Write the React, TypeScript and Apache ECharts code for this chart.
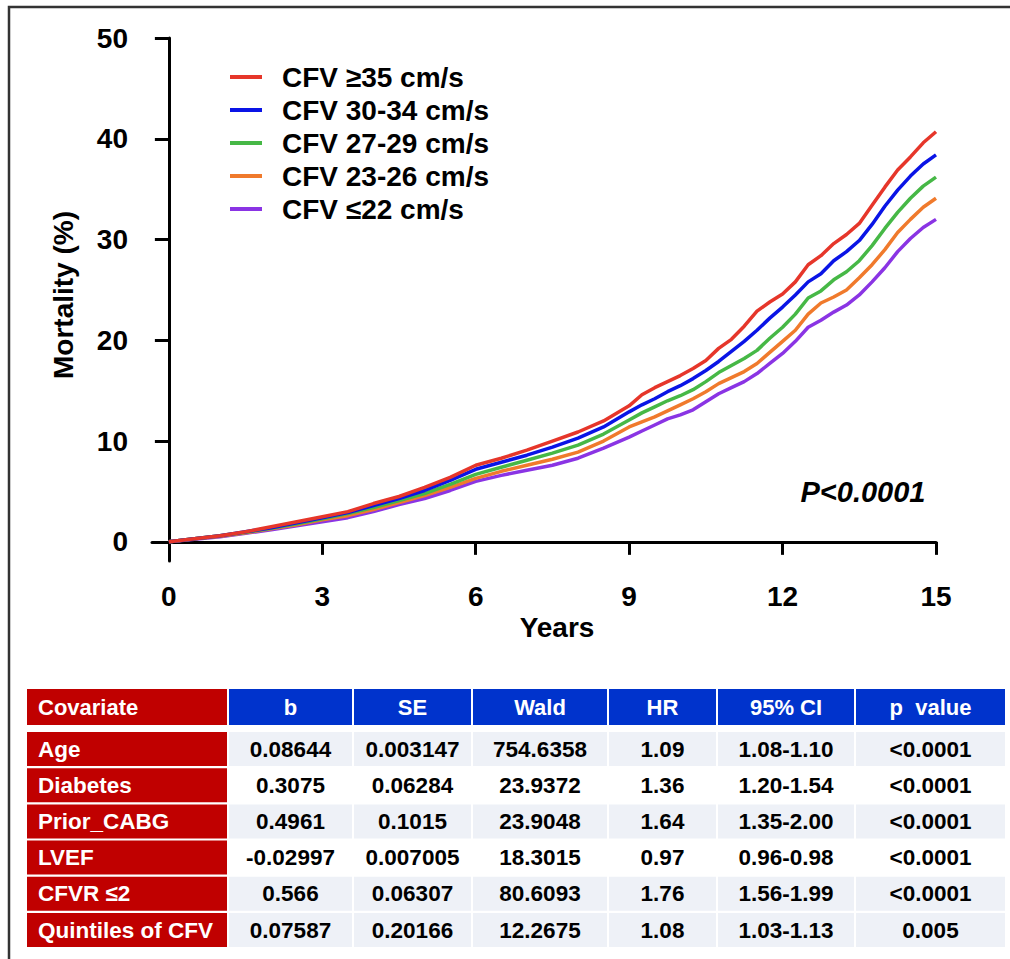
import React, { useEffect, useRef } from "react";
import * as echarts from "echarts";

// ---------- data ----------
const years = [
  0, 0.5, 1, 1.5, 2, 2.5, 3, 3.5, 4, 4.5, 5, 5.5, 6, 6.5, 7, 7.5, 8, 8.5, 9,
  9.25, 9.5, 9.75, 10, 10.25, 10.5, 10.75, 11, 11.25, 11.5, 11.75, 12, 12.25,
  12.5, 12.75, 13, 13.25, 13.5, 13.75, 14, 14.25, 14.5, 14.75, 15,
];
const cfv35 = [
  0, 0.3, 0.6, 1.0, 1.5, 2.0, 2.5, 3.0, 3.8, 4.5, 5.4, 6.4, 7.6, 8.3, 9.1, 10.0, 10.9, 12.0, 13.5,
  14.6, 15.3, 15.9, 16.5, 17.2, 18.0, 19.2, 20.1, 21.4, 22.9, 23.8, 24.6, 25.8,
  27.5, 28.4, 29.6, 30.5, 31.6, 33.4, 35.2, 36.9, 38.2, 39.6, 40.7,
];
const cfv30 = [
  0, 0.3, 0.6, 1.0, 1.4, 1.9, 2.4, 2.9, 3.6, 4.3, 5.1, 6.1, 7.2, 7.9, 8.6, 9.4, 10.3, 11.4, 12.9,
  13.6, 14.2, 14.9, 15.5, 16.2, 17.0, 17.9, 18.9, 19.9, 21.0, 22.2, 23.3, 24.5,
  25.8, 26.6, 27.9, 28.8, 29.9, 31.5, 33.3, 34.9, 36.3, 37.5, 38.4,
];
const cfv27 = [
  0, 0.3, 0.6, 0.95, 1.35, 1.8, 2.3, 2.8, 3.4, 4.1, 4.8, 5.7, 6.7, 7.4, 8.1, 8.8, 9.6, 10.7, 12.1,
  12.8, 13.4, 14.0, 14.5, 15.1, 15.9, 16.8, 17.5, 18.2, 19.0, 20.2, 21.3, 22.6,
  24.2, 24.9, 26.0, 26.8, 27.9, 29.4, 31.1, 32.7, 34.1, 35.3, 36.2,
];
const cfv23 = [
  0, 0.3, 0.55, 0.9, 1.3, 1.7, 2.2, 2.6, 3.2, 3.9, 4.6, 5.4, 6.3, 7.0, 7.6, 8.2, 8.9, 10.0, 11.4,
  11.9, 12.4, 13.0, 13.6, 14.2, 14.9, 15.7, 16.3, 16.9, 17.7, 18.8, 19.9, 21.0,
  22.6, 23.7, 24.3, 25.0, 26.2, 27.5, 29.0, 30.7, 32.0, 33.2, 34.1,
];
const cfv22 = [
  0, 0.25, 0.5, 0.85, 1.2, 1.6, 2.0, 2.4, 3.0, 3.7, 4.3, 5.1, 6.0, 6.6, 7.1, 7.6, 8.3, 9.3, 10.4,
  11.0, 11.6, 12.2, 12.6, 13.1, 13.9, 14.7, 15.3, 15.9, 16.7, 17.7, 18.7, 19.9,
  21.3, 22.0, 22.8, 23.5, 24.5, 25.8, 27.2, 28.8, 30.1, 31.2, 32.0,
];
const seriesNames = [
  "CFV ≥35 cm/s",
  "CFV 30-34 cm/s",
  "CFV 27-29 cm/s",
  "CFV 23-26 cm/s",
  "CFV ≤22 cm/s",
];
const seriesValues = [cfv35, cfv30, cfv27, cfv23, cfv22];
const seriesColors = ["#e6362a", "#0a14e6", "#46b846", "#f07a2c", "#8a34e4"];

const xTicks = [0, 3, 6, 9, 12, 15];
const yTicks = [0, 10, 20, 30, 40, 50];

const tableHeader = ["Covariate", "b", "SE", "Wald", "HR", "95% CI", "p  value"];
const covariates = ["Age", "Diabetes", "Prior_CABG", "LVEF", "CFVR ≤2", "Quintiles of CFV"];
const colB = ["0.08644", "0.3075", "0.4961", "-0.02997", "0.566", "0.07587"];
const colSE = ["0.003147", "0.06284", "0.1015", "0.007005", "0.06307", "0.20166"];
const colWald = ["754.6358", "23.9372", "23.9048", "18.3015", "80.6093", "12.2675"];
const colHR = ["1.09", "1.36", "1.64", "0.97", "1.76", "1.08"];
const colCI = ["1.08-1.10", "1.20-1.54", "1.35-2.00", "0.96-0.98", "1.56-1.99", "1.03-1.13"];
const colP = ["<0.0001", "<0.0001", "<0.0001", "<0.0001", "<0.0001", "0.005"];

// ---------- layout ----------
const FONT = "'Liberation Sans', Arial, Helvetica, sans-serif";
const colX = [27, 229, 354, 473, 609, 718, 856];
const colW = [200, 123, 117, 134, 107, 136, 149];
const headerTop = 689;
const headerH = 36;
const rowTop0 = 732;
const rowStep = 36.2;
const rowH = 34;
const lightRows = [true, false, true, false, true, true];

function buildTable(): any[] {
  const els: any[] = [];
  const columns = [covariates, colB, colSE, colWald, colHR, colCI, colP];
  tableHeader.forEach((h, c) => {
    els.push({
      type: "rect",
      shape: { x: colX[c], y: headerTop, width: colW[c], height: headerH },
      style: { fill: c === 0 ? "#c00000" : "#0033cc" },
    });
    els.push({
      type: "text",
      x: c === 0 ? colX[c] + 11 : colX[c] + colW[c] / 2,
      y: headerTop + headerH / 2,
      style: {
        text: h,
        fill: "#ffffff",
        font: `bold 22px ${FONT}`,
        align: c === 0 ? "left" : "center",
        verticalAlign: "middle",
      },
    });
  });
  covariates.forEach((_, r) => {
    const y = rowTop0 + r * rowStep;
    columns.forEach((col, c) => {
      els.push({
        type: "rect",
        shape: { x: colX[c], y, width: colW[c], height: rowH },
        style: { fill: c === 0 ? "#c00000" : lightRows[r] ? "#eef1f7" : "#ffffff" },
      });
      els.push({
        type: "text",
        x: c === 0 ? colX[c] + 11 : colX[c] + colW[c] / 2,
        y: y + rowH / 2,
        style: {
          text: col[r],
          fill: c === 0 ? "#ffffff" : "#000000",
          font: `bold 22.5px ${FONT}`,
          align: c === 0 ? "left" : "center",
          verticalAlign: "middle",
        },
      });
    });
  });
  return els;
}

export default function App() {
  const ref = useRef<HTMLDivElement>(null);
  useEffect(() => {
    if (!ref.current) return;
    const chart = echarts.init(ref.current, null, { renderer: "svg" });
    const order = [4, 3, 2, 1, 0];
    const option: any = {
      animation: false,
      backgroundColor: "#ffffff",
      grid: { left: 152, right: 74, top: 38, bottom: 398, containLabel: false },
      legend: {
        data: seriesNames,
        orient: "vertical",
        left: 230,
        top: 63,
        padding: 0,
        itemGap: 5,
        itemWidth: 32,
        itemHeight: 4,
        icon: "rect",
        textStyle: {
          fontFamily: FONT,
          fontWeight: "bold",
          fontSize: 28,
          lineHeight: 28,
          color: "#000",
          padding: [0, 0, 0, 15],
        },
      },
      xAxis: {
        type: "value",
        min: -0.33,
        max: 15,
        splitLine: { show: false },
        axisLine: { show: true, lineStyle: { color: "#000", width: 3 } },
        axisTick: {
          show: true,
          length: 13,
          lineStyle: { color: "#000", width: 3 },
          customValues: xTicks,
        },
        axisLabel: {
          customValues: xTicks,
          margin: 21,
          fontFamily: FONT,
          fontWeight: "bold",
          fontSize: 28,
          color: "#000",
        },
      },
      yAxis: {
        type: "value",
        min: -1.9,
        max: 50,
        splitLine: { show: false },
        axisLine: { show: true, lineStyle: { color: "#000", width: 3 } },
        axisTick: {
          show: true,
          length: 14,
          lineStyle: { color: "#000", width: 3 },
          customValues: yTicks,
        },
        axisLabel: {
          customValues: yTicks,
          margin: 24,
          fontFamily: FONT,
          fontWeight: "bold",
          fontSize: 28,
          color: "#000",
        },
      },
      series: order.map((i) => ({
        name: seriesNames[i],
        type: "line",
        showSymbol: false,
        symbol: "none",
        color: seriesColors[i],
        lineStyle: { width: 3.5, color: seriesColors[i] },
        data: years.map((t, k) => [t, seriesValues[i][k]]),
      })),
      graphic: [
        {
          type: "rect",
          shape: { x: 9, y: 7, width: 1010, height: 960 },
          style: { fill: "none", stroke: "#333333", lineWidth: 2.5 },
          silent: true,
        },
        {
          type: "text",
          x: 557,
          y: 627,
          style: {
            text: "Years",
            font: `bold 28px ${FONT}`,
            fill: "#000",
            align: "center",
            verticalAlign: "middle",
          },
        },
        {
          type: "text",
          x: 63,
          y: 295,
          rotation: Math.PI / 2,
          style: {
            text: "Mortality (%)",
            font: `bold 28px ${FONT}`,
            fill: "#000",
            align: "center",
            verticalAlign: "middle",
          },
        },
        {
          type: "text",
          x: 863,
          y: 492,
          style: {
            text: "P<0.0001",
            font: `italic bold 29px ${FONT}`,
            fill: "#000",
            align: "center",
            verticalAlign: "middle",
          },
        },
        ...buildTable(),
      ],
    };
    chart.setOption(option);
    return () => chart.dispose();
  }, []);
  return (
    <div
      ref={ref}
      style={{
        position: "fixed",
        left: 0,
        top: 0,
        width: 1010,
        height: 959,
        background: "#fff",
      }}
    />
  );
}
